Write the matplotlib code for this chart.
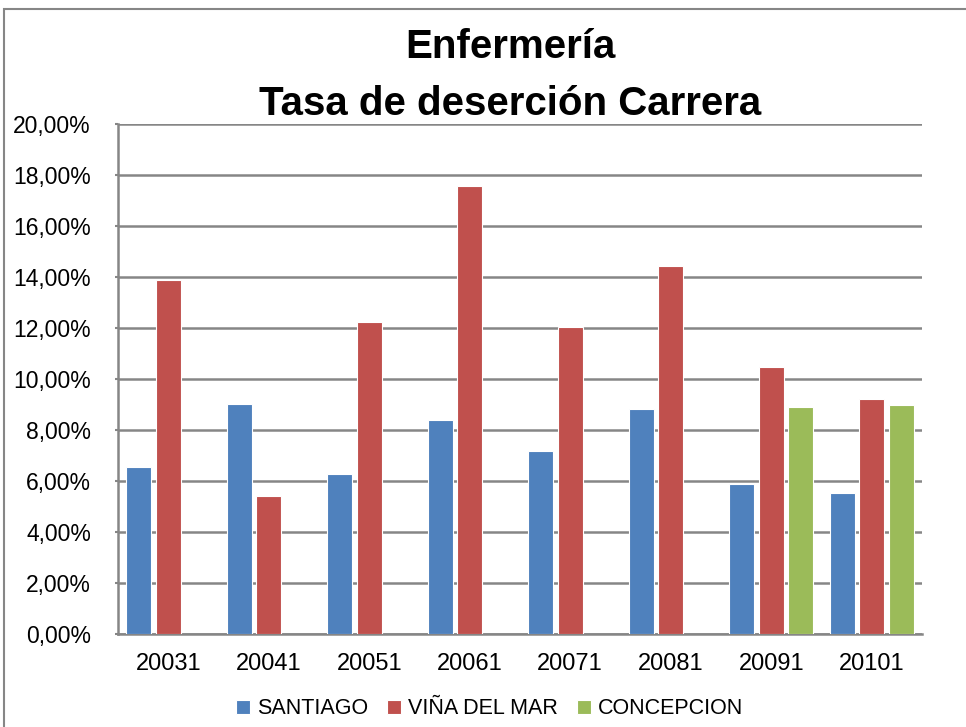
import matplotlib
matplotlib.use("Agg")
import matplotlib.pyplot as plt
import numpy as np
from matplotlib.patches import Rectangle

plt.rcParams['font.family'] = ['Liberation Sans', 'DejaVu Sans']

categories = ["20031", "20041", "20051", "20061", "20071", "20081", "20091", "20101"]
santiago = [6.56, 9.00, 6.26, 8.37, 7.18, 8.81, 5.87, 5.53]
vina = [13.88, 5.39, 12.22, 17.58, 12.02, 14.41, 10.45, 9.22]
concepcion = [np.nan, np.nan, np.nan, np.nan, np.nan, np.nan, 8.88, 8.96]
series_names = ["SANTIAGO", "VIÑA DEL MAR", "CONCEPCION"]
colors = ["#4F81BD", "#C0504D", "#9BBB59"]
yticks = [0, 2, 4, 6, 8, 10, 12, 14, 16, 18, 20]
ytick_labels = ["0,00%", "2,00%", "4,00%", "6,00%", "8,00%", "10,00%", "12,00%",
                "14,00%", "16,00%", "18,00%", "20,00%"]

fig = plt.figure(figsize=(9.66, 7.27), dpi=100)
ax = fig.add_axes([118/966, 1-633.7/727, (922-118)/966, (633.7-124)/727])

x = np.arange(len(categories))
off = 0.2935
w = 0.25
for i, (vals, name, c) in enumerate(zip([santiago, vina, concepcion], series_names, colors)):
    ax.bar(x + (i-1)*off, vals, width=w, color=c, edgecolor="white", linewidth=0.8,
           label=name, zorder=3)

ax.set_xlim(-0.5, len(categories)-0.5)
ax.set_ylim(0, 20)
ax.set_yticks(yticks)
ax.set_yticklabels(ytick_labels, fontsize=16.5)
ax.set_xticks(x)
ax.set_xticklabels(categories, fontsize=17)
ax.yaxis.grid(True, color="#868686", linewidth=1.8, zorder=0)
ax.set_axisbelow(True)
for s in ["top", "right"]:
    ax.spines[s].set_visible(False)
for s in ["left", "bottom"]:
    ax.spines[s].set_color("#868686")
    ax.spines[s].set_linewidth(1.8)
ax.tick_params(axis='y', length=2.5, color="#868686", width=1.5, pad=17)
ax.tick_params(axis='x', length=0, pad=14)

fig.text(510/966, 1-47/727, "Enfermería", ha="center", va="center", fontsize=29, fontweight="bold")
fig.text(510/966, 1-104/727, "Tasa de deserción Carrera", ha="center", va="center", fontsize=29, fontweight="bold")

leg = fig.legend(loc="center", bbox_to_anchor=(489.5/966, 1-709/727), ncol=3, frameon=False,
                 fontsize=15.5, handlelength=0.65, handleheight=0.65, columnspacing=0.9,
                 handletextpad=0.3, borderpad=0, borderaxespad=0)

fig.patches.append(Rectangle((4/966, -0.1), 2.0, 1.1 - 9/727, transform=fig.transFigure,
                             fill=False, edgecolor="#868686", linewidth=1.5))

fig.savefig("out.png", dpi=100)
